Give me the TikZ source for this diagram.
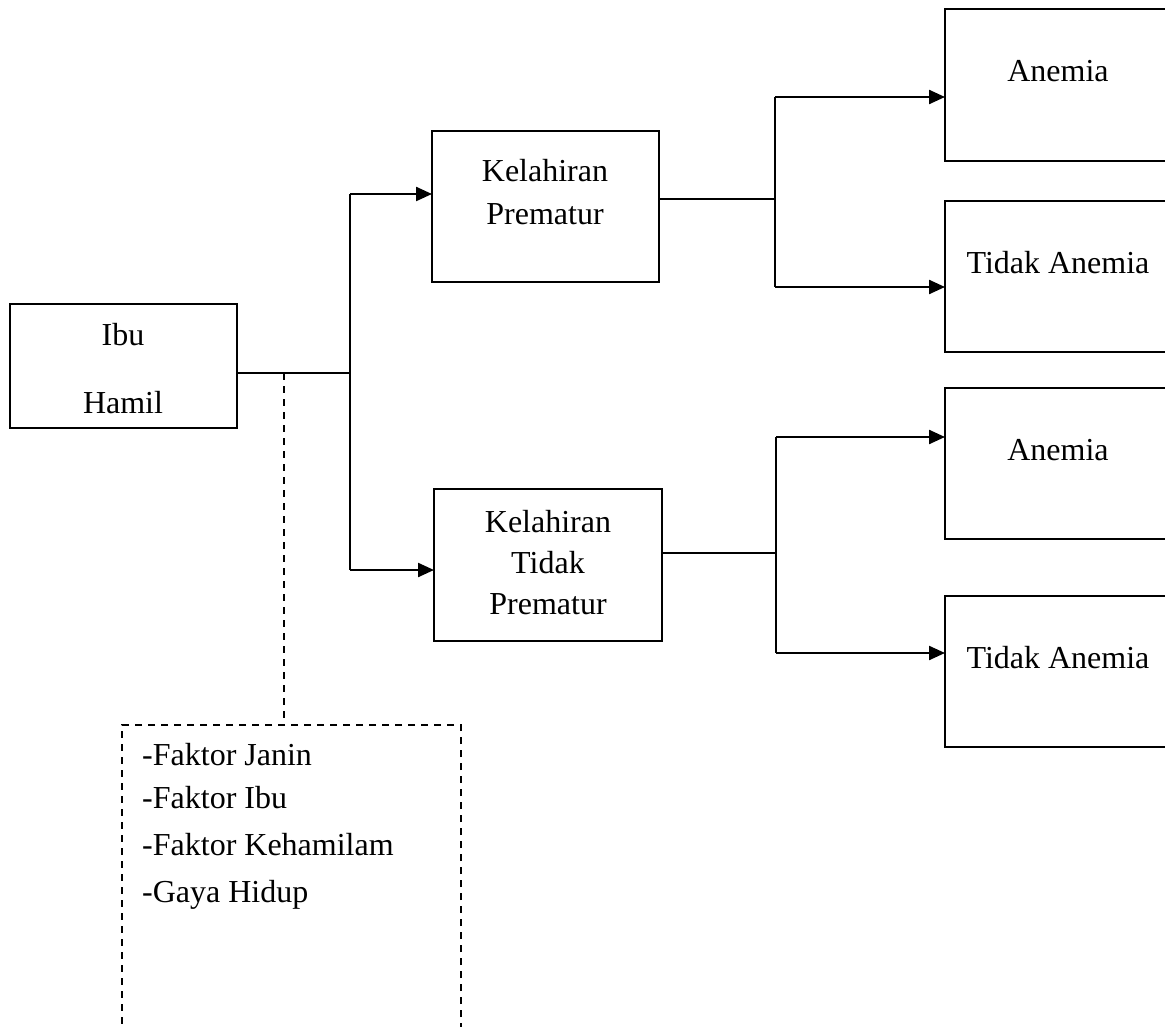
\documentclass[tikz,border=0pt]{standalone}
\usepackage{fontspec}
\setmainfont{Liberation Serif}
\usetikzlibrary{arrows.meta, positioning, calc}
\tikzset{
    box/.style={draw, line width=2.3pt, inner sep=0pt, outer sep=0pt, anchor=north west},
    txt/.style={inner sep=0pt, anchor=base, font=\fontsize{32}{38}\selectfont},
    link/.style={line width=2.3pt},
    arr/.style={line width=2.3pt, -{Triangle[length=16pt, width=14pt]}},
    dashline/.style={line width=1.6pt, dash pattern=on 7pt off 6pt}
}

\begin{document}
\begin{tikzpicture}[x=1pt, y=-1pt]
    \useasboundingbox (0,0) rectangle (1165,1027);
    \clip (0,0) rectangle (1165,1027);
    % Boxes
    \node[box, minimum width=227pt, minimum height=124pt] (ibu) at (10,304) {};
    \node[box, minimum width=227pt, minimum height=151pt] (kp) at (432,131) {};
    \node[box, minimum width=228pt, minimum height=152pt] (ktp) at (434,489) {};
    \node[box, minimum width=227pt, minimum height=152pt] (an1) at (945,9) {};
    \node[box, minimum width=227pt, minimum height=151pt] (ta1) at (945,201) {};
    \node[box, minimum width=227pt, minimum height=151pt] (an2) at (945,388) {};
    \node[box, minimum width=227pt, minimum height=151pt] (ta2) at (945,596) {};
    \node[box, dashline, minimum width=339pt, minimum height=330pt] (fak) at (122,725) {};
    % Texts
    \node[txt] (ibuA) at (123,345) {Ibu};
    \node[txt] (ibuB) at (123,413) {Hamil};
    \node[txt] (kpA) at (545,182) {Kelahiran};
    \node[txt] (kpB) at (545,225) {Prematur};
    \node[txt] (ktpA) at (548,532) {Kelahiran};
    \node[txt] (ktpB) at (548,573) {Tidak};
    \node[txt] (ktpC) at (548,614) {Prematur};
    \node[txt] (an1t) at (1058,82) {Anemia};
    \node[txt] (ta1t) at (1058,273) {Tidak Anemia};
    \node[txt] (an2t) at (1058,460) {Anemia};
    \node[txt] (ta2t) at (1058,668) {Tidak Anemia};
    \foreach \t/\yy [count=\i] in {Faktor Janin/765, Faktor Ibu/808, Faktor Kehamilam/855, Gaya Hidup/902}
        \node[txt, anchor=base west] (fak\i) at (142,\yy) {-\t};
    % Branch points
    \coordinate (fork1) at (350,373);
    \coordinate (up1) at (350,194);
    \coordinate (dn1) at (350,570);
    \coordinate (fork2) at (775,199);
    \coordinate (up2) at (775,97);
    \coordinate (dn2) at (775,287);
    \coordinate (fork3) at (776,553);
    \coordinate (up3) at (776,437);
    \coordinate (dn3) at (776,653);
    \coordinate (dtop) at (284,373);
    % Connectors
    \draw[link] (ibu.east |- fork1) -- (fork1);
    \draw[link] (up1) -- (dn1);
    \draw[arr] (up1) -- (up1 -| kp.west);
    \draw[arr] (dn1) -- (dn1 -| ktp.west);
    \draw[link] (kp.east |- fork2) -- (fork2);
    \draw[link] (up2) -- (dn2);
    \draw[arr] (up2) -- (up2 -| an1.west);
    \draw[arr] (dn2) -- (dn2 -| ta1.west);
    \draw[link] (ktp.east |- fork3) -- (fork3);
    \draw[link] (up3) -- (dn3);
    \draw[arr] (up3) -- (up3 -| an2.west);
    \draw[arr] (dn3) -- (dn3 -| ta2.west);
    \draw[dashline] (dtop) -- (dtop |- fak.north);
\end{tikzpicture}
\end{document}
